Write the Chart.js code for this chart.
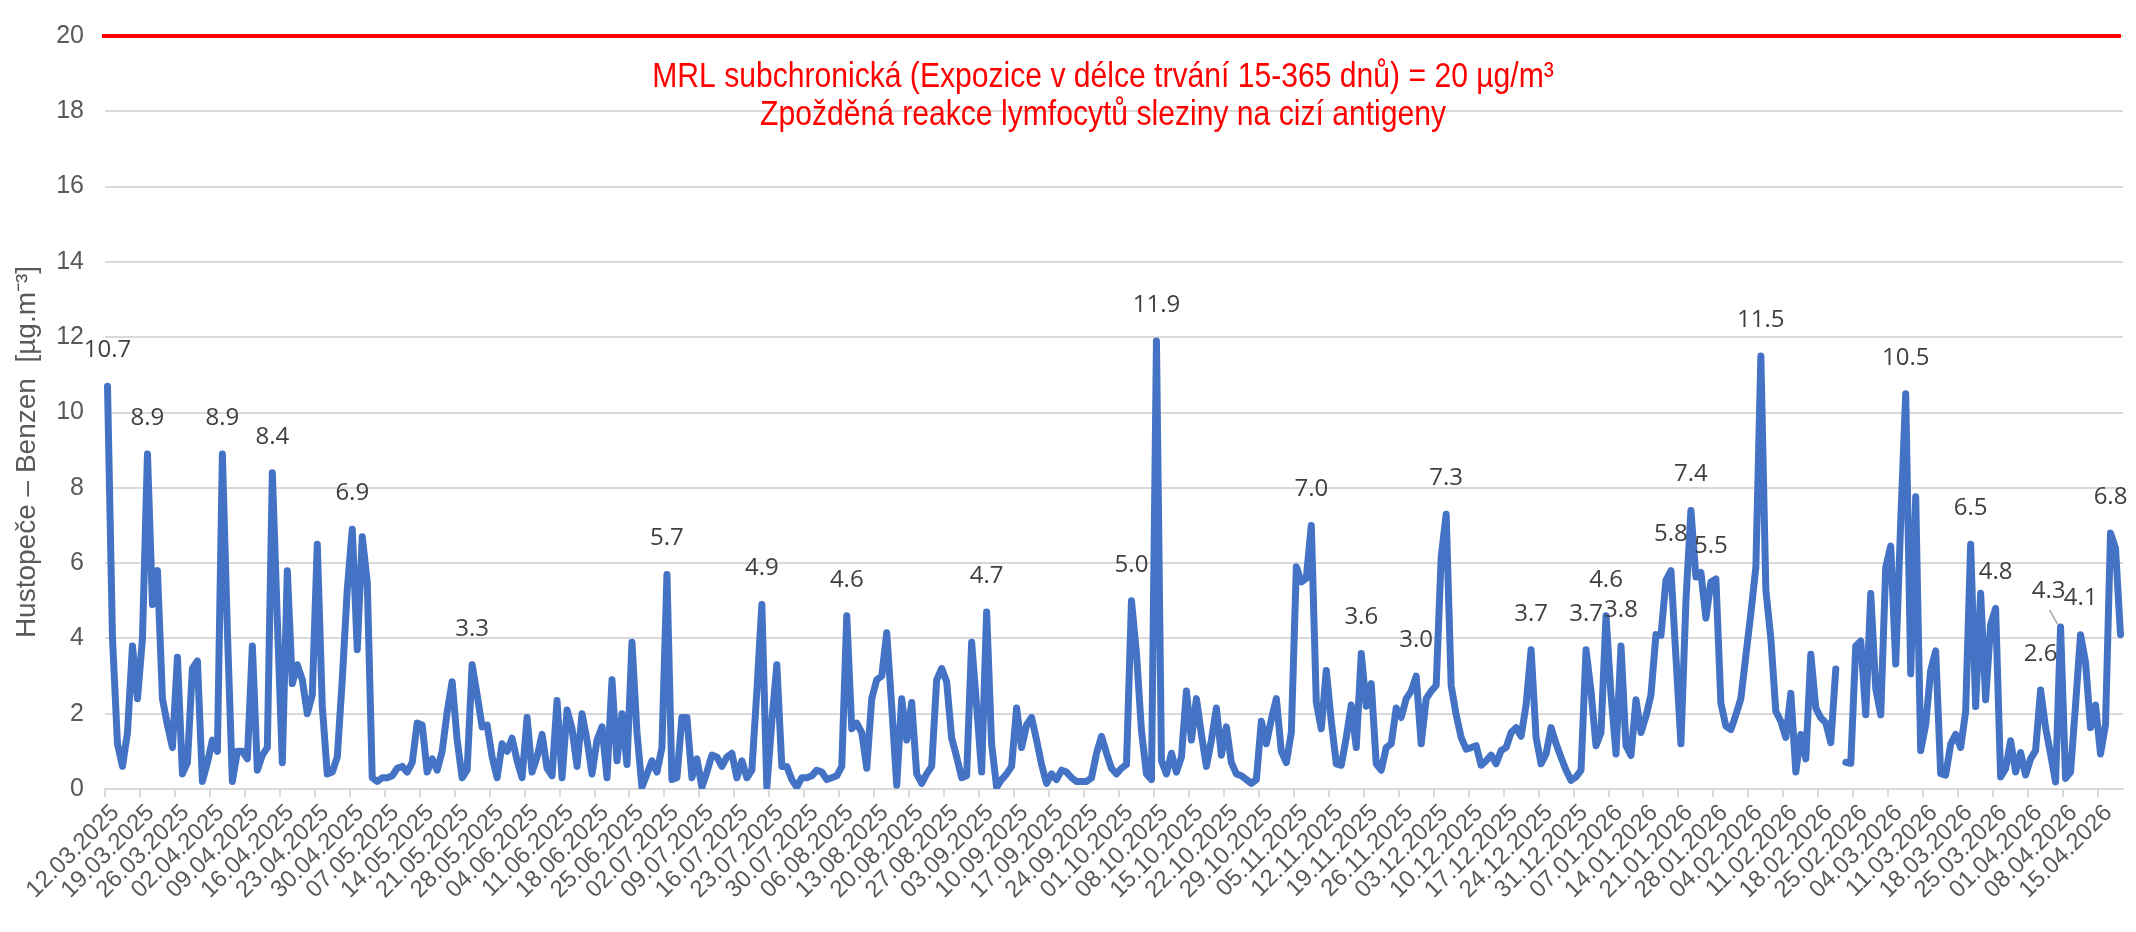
<!DOCTYPE html>
<html>
<head>
<meta charset="utf-8">
<script src="https://cdn.jsdelivr.net/npm/chart.js@4.4.1/dist/chart.umd.min.js"></script>
<style>
  html, body { margin: 0; padding: 0; background: #ffffff; }
  #wrap { position: relative; width: 2136px; height: 932px; }
</style>
</head>
<body>
<div id="wrap"><canvas id="c"></canvas></div>
<script>
// ---- categories: daily dates 12.03.2025 .. 19.04.2026 ----
const START_DATE = [2025, 2, 12];
const DAY_COUNT = 404;
const dates = [];
for (let i = 0; i < DAY_COUNT; i++) {
  const d = new Date(START_DATE[0], START_DATE[1], START_DATE[2] + i);
  dates.push(String(d.getDate()).padStart(2, '0') + '.' + String(d.getMonth() + 1).padStart(2, '0') + '.' + d.getFullYear());
}
const TICK_EVERY = 7;

// ---- series: benzene, Hustopeče [µg/m3] ----
const benzen = [
10.7,4.0,1.2,0.6,1.5,3.8,2.4,4.0,8.9,4.9,5.8,2.4,1.7,1.1,3.5,0.4,0.7,3.2,3.4,0.2,
0.7,1.3,1.0,8.9,4.2,0.2,1.0,1.0,0.8,3.8,0.5,0.9,1.1,8.4,4.5,0.7,5.8,2.8,3.3,2.9,
2.0,2.5,6.5,2.2,0.4,0.45,0.85,2.9,5.3,6.9,3.7,6.7,5.5,0.3,0.2,0.3,0.3,0.35,0.55,0.6,
0.45,0.7,1.75,1.7,0.45,0.8,0.5,1.0,2.05,2.85,1.3,0.3,0.5,3.3,2.5,1.65,1.7,0.85,0.3,1.2,
1.0,1.35,0.75,0.3,1.9,0.45,0.85,1.45,0.55,0.35,2.35,0.3,2.1,1.6,0.6,2.0,1.3,0.4,1.3,1.65,
0.3,2.9,0.75,2.0,0.65,3.9,1.5,0.05,0.4,0.75,0.45,1.1,5.7,0.25,0.3,1.9,1.9,0.3,0.8,0.05,
0.45,0.9,0.85,0.6,0.85,0.95,0.3,0.75,0.3,0.5,2.6,4.9,0.05,1.8,3.3,0.6,0.6,0.25,0.05,0.3,
0.3,0.35,0.5,0.45,0.25,0.3,0.35,0.6,4.6,1.6,1.75,1.5,0.55,2.4,2.9,3.0,4.15,2.2,0.1,2.4,
1.3,2.3,0.4,0.15,0.4,0.6,2.9,3.2,2.85,1.35,0.85,0.3,0.35,3.9,2.2,0.45,4.7,1.2,0.05,0.25,
0.4,0.6,2.15,1.1,1.7,1.9,1.3,0.65,0.15,0.4,0.25,0.5,0.45,0.3,0.2,0.2,0.2,0.3,0.95,1.4,
0.95,0.55,0.4,0.55,0.65,5.0,3.6,1.55,0.4,0.25,11.9,0.75,0.4,0.95,0.45,0.85,2.6,1.3,2.4,1.45,
0.6,1.3,2.15,0.9,1.65,0.7,0.4,0.35,0.25,0.15,0.25,1.8,1.2,1.85,2.4,1.0,0.7,1.5,5.9,5.5,
5.6,7.0,2.3,1.6,3.15,1.8,0.67,0.63,1.37,2.23,1.1,3.6,2.2,2.8,0.67,0.5,1.1,1.2,2.15,1.9,
2.4,2.6,3.0,1.2,2.4,2.6,2.75,6.15,7.3,2.75,1.97,1.37,1.06,1.1,1.15,0.63,0.75,0.9,0.67,1.02,
1.1,1.5,1.63,1.4,2.23,3.7,1.37,0.67,0.93,1.63,1.2,0.84,0.5,0.23,0.32,0.5,3.7,2.6,1.15,1.5,
4.6,2.5,0.93,3.8,1.15,0.89,2.37,1.5,1.93,2.5,4.1,4.08,5.54,5.8,3.5,1.2,5.0,7.4,5.63,5.75,
4.54,5.5,5.58,2.28,1.67,1.58,1.97,2.4,3.54,4.67,5.89,11.5,5.28,4.0,2.06,1.8,1.37,2.54,0.45,1.45,
0.8,3.58,2.15,1.89,1.76,1.23,3.19,null,0.71,0.68,3.8,3.93,1.97,5.19,2.67,1.97,5.89,6.45,3.32,7.1,
10.5,3.06,7.76,1.02,1.71,3.15,3.67,0.41,0.37,1.19,1.45,1.1,2.06,6.5,2.19,5.2,2.37,4.37,4.8,0.32,
0.54,1.28,0.45,0.97,0.37,0.8,1.02,2.63,1.63,0.93,0.19,4.3,0.28,0.45,2.23,4.1,3.37,1.63,2.23,0.93,
1.71,6.8,6.4,4.1
];

// indices of points that carry a value label
const labelIdx = [0,8,23,33,49,73,112,131,148,176,205,210,241,251,262,268,285,296,300,303,313,317,321,331,360,373,378,387,391,395,401];

// y axis ticks
const Y_MIN = 0, Y_MAX = 20, Y_STEP = 2;

// MRL limit
const MRL = 20;
const mrlText = [
  'MRL subchronická (Expozice v délce trvání 15-365 dnů) = 20 µg/m³',
  'Zpožděná reakce lymfocytů sleziny na cizí antigeny'
];
const yTitle = 'Hustopeče – Benzen  [µg.m⁻³]';

const GRID = '#d9d9d9';
const TEXT = '#595959';
const SANS = "'Liberation Sans', Arial, sans-serif";

const mrlPlugin = {
  id: 'mrl',
  afterDatasetsDraw(chart) {
    const {ctx, chartArea, scales} = chart;
    const y = scales.y.getPixelForValue(MRL);
    ctx.save();
    ctx.strokeStyle = '#ff0000';
    ctx.lineWidth = 4;
    ctx.beginPath();
    ctx.moveTo(chartArea.left - 3, y);
    ctx.lineTo(chartArea.right - 2, y);
    ctx.stroke();
    ctx.fillStyle = '#ff0000';
    ctx.font = "35px " + SANS;
    ctx.textAlign = 'center';
    ctx.textBaseline = 'middle';
    // condensed look: squeeze horizontally
    ctx.translate(1103, 0);
    ctx.scale(0.86, 1);
    ctx.fillText(mrlText[0], 0, 77);
    ctx.fillText(mrlText[1], 0, 115);
    ctx.restore();
  }
};

const yTitlePlugin = {
  id: 'ytitle',
  afterDraw(chart) {
    const {ctx} = chart;
    ctx.save();
    ctx.translate(27, 452);
    ctx.rotate(-Math.PI / 2);
    ctx.fillStyle = TEXT;
    ctx.font = "28px " + SANS;
    ctx.textAlign = 'center';
    ctx.textBaseline = 'middle';
    ctx.fillText(yTitle, 0, 0);
    ctx.restore();
  }
};

const valueLabelPlugin = {
  id: 'valueLabels',
  afterDatasetsDraw(chart, args, opts) {
    const {ctx} = chart;
    const meta = chart.getDatasetMeta(0);
    ctx.save();
    ctx.font = "24px 'Open Sans', sans-serif";
    ctx.fillStyle = '#404040';
    ctx.textAlign = 'center';
    ctx.textBaseline = 'middle';
    labelIdx.forEach(i => {
      const pt = meta.data[i];
      const v = benzen[i];
      const shift = (opts.shifts && opts.shifts[i]) || 0;
      const lx = pt.x + shift, ly = pt.y - 36;
      if (shift) {
        ctx.strokeStyle = '#a6a6a6';
        ctx.lineWidth = 1.5;
        ctx.beginPath();
        ctx.moveTo(pt.x - 11, pt.y - 17);
        ctx.lineTo(pt.x - 3, pt.y - 3);
        ctx.stroke();
      }
      ctx.fillText(v.toFixed(1), lx, ly);
    });
    ctx.restore();
  }
};

new Chart(document.getElementById('c'), {
  type: 'line',
  data: {
    labels: dates,
    datasets: [{
      data: benzen,
      borderColor: '#4472C4',
      borderWidth: 7,
      pointRadius: 0,
      tension: 0,
      spanGaps: false,
      borderJoinStyle: 'round',
      borderCapStyle: 'round'
    }]
  },
  options: {
    responsive: true,
    maintainAspectRatio: false,
    animation: false,
    devicePixelRatio: 1,
    layout: { padding: { top: 23, right: 13, left: 0, bottom: 0 } },
    plugins: {
      legend: { display: false },
      tooltip: { enabled: false },
      valueLabels: { shifts: { 391: -12 } }
    },
    scales: {
      x: {
        type: 'category',
        offset: true,
        grid: {
          display: true,
          offset: true,
          drawOnChartArea: false,
          drawTicks: true,
          tickLength: 8,
          lineWidth: 2,
          color: (c) => (c.index !== undefined && c.index % TICK_EVERY === 0) ? GRID : 'rgba(0,0,0,0)'
        },
        border: { display: true, color: GRID, width: 2 },
        ticks: {
          autoSkip: false,
          maxRotation: 45,
          minRotation: 45,
          padding: 2,
          labelOffset: 8,
          color: TEXT,
          font: { family: SANS, size: 24 },
          callback: function(v, idx) { return idx % TICK_EVERY === 0 ? dates[idx] : ''; }
        },
        afterFit(scale) { scale.height = 143; scale.paddingLeft = 0; scale.paddingRight = 0; }
      },
      y: {
        min: Y_MIN, max: Y_MAX,
        grid: { color: GRID, lineWidth: 2, drawTicks: false },
        border: { display: false },
        ticks: {
          stepSize: Y_STEP,
          padding: 21,
          color: TEXT,
          font: { family: SANS, size: 25 }
        },
        afterFit(scale) { scale.width = 105; }
      }
    }
  },
  plugins: [mrlPlugin, yTitlePlugin, valueLabelPlugin]
});
</script>
</body>
</html>
